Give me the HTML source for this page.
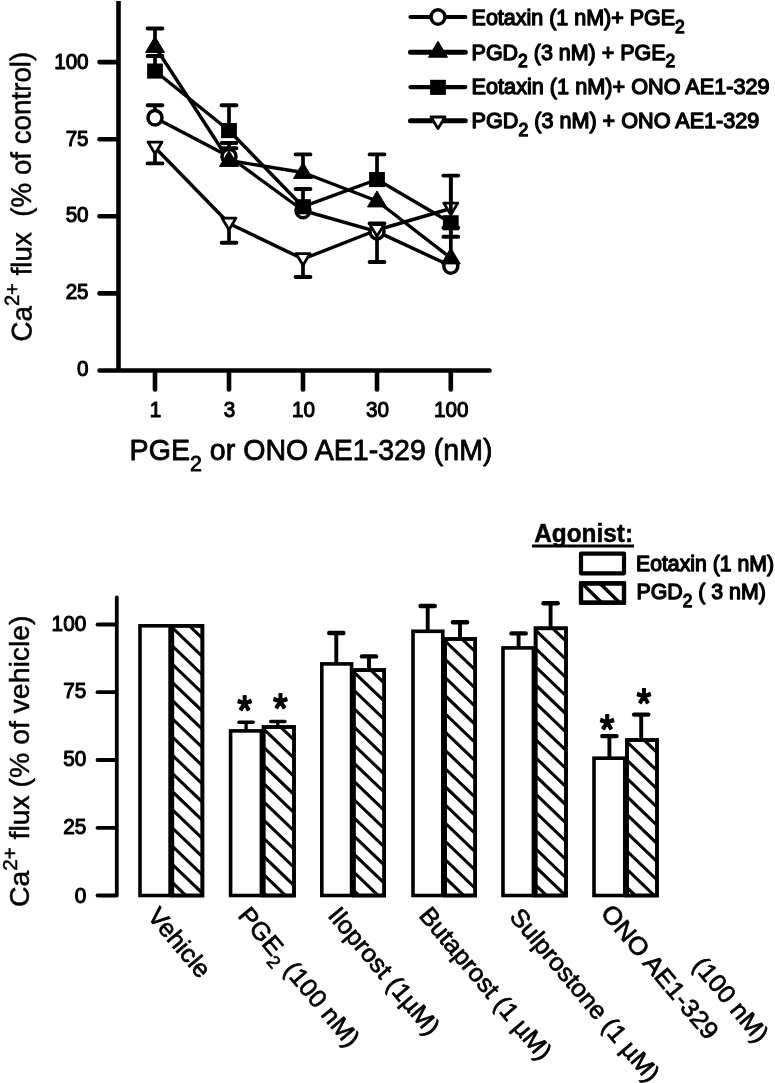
<!DOCTYPE html>
<html lang="en"><head><meta charset="utf-8"><title>Figure</title>
<style>
html,body{margin:0;padding:0;background:#fff;}
svg{display:block}
text{font-family:"Liberation Sans", Arial, Helvetica, sans-serif;white-space:pre;fill:#000;stroke:#000;stroke-width:1.1px;stroke-linejoin:round}
.b{font-weight:bold}
</style></head><body>
<svg width="775" height="1083" viewBox="0 0 775 1083">
<rect width="775" height="1083" fill="#fff"/>

<g stroke="#000" stroke-width="4.6" fill="none" stroke-linecap="round">
<line x1="118.5" y1="1" x2="118.5" y2="370.5" stroke-linecap="butt"/>
<line x1="99.5" y1="370.5" x2="489.5" y2="370.5"/>
<line x1="99.5" y1="293.4" x2="117.5" y2="293.4"/>
<line x1="99.5" y1="216.3" x2="117.5" y2="216.3"/>
<line x1="99.5" y1="139.2" x2="117.5" y2="139.2"/>
<line x1="99.5" y1="62.1" x2="117.5" y2="62.1"/>
<line x1="155" y1="371.5" x2="155" y2="389.5"/>
<line x1="229" y1="371.5" x2="229" y2="389.5"/>
<line x1="303" y1="371.5" x2="303" y2="389.5"/>
<line x1="377" y1="371.5" x2="377" y2="389.5"/>
<line x1="450.8" y1="371.5" x2="450.8" y2="389.5"/>
</g>
<text transform="translate(88.6,376.0) scale(0.96,1)" font-size="21.5" text-anchor="end">0</text>
<text transform="translate(88.6,299.3) scale(0.96,1)" font-size="21.5" text-anchor="end">25</text>
<text transform="translate(88.6,222.0) scale(0.96,1)" font-size="21.5" text-anchor="end">50</text>
<text transform="translate(88.6,145.9) scale(0.96,1)" font-size="21.5" text-anchor="end">75</text>
<text transform="translate(88.6,69.3) scale(0.96,1)" font-size="21.5" text-anchor="end">100</text>
<text transform="translate(155.5,417) scale(0.96,1)" font-size="21.5" text-anchor="middle">1</text>
<text transform="translate(229.5,417) scale(0.96,1)" font-size="21.5" text-anchor="middle">3</text>
<text transform="translate(303.5,417) scale(0.96,1)" font-size="21.5" text-anchor="middle">10</text>
<text transform="translate(377.5,417) scale(0.96,1)" font-size="21.5" text-anchor="middle">30</text>
<text transform="translate(451.3,417) scale(0.96,1)" font-size="21.5" text-anchor="middle">100</text>
<text transform="translate(129.6,460) scale(0.9756,1)" font-size="29.3" style="stroke-width:0.8px">PGE<tspan font-size="22" dy="10.5">2</tspan><tspan dy="-10.5"> or ONO AE1-329 (nM)</tspan></text>
<text transform="translate(31.6,341.5) rotate(-90.27) scale(0.9815,1)" font-size="28.3" style="stroke-width:0.5px">Ca<tspan font-size="20.5" dy="-12.4">2+</tspan><tspan dy="12.4"> flux  (% of control)</tspan></text>
<g stroke="#000" stroke-width="3.4" fill="none" stroke-linejoin="round" stroke-linecap="round">
<path d="M155 117.7V105.3" stroke-width="3.7" stroke-linecap="butt"/><path d="M147.6 105.3H162.4" stroke-width="3.9"/>
<path d="M229 156.5V143" stroke-width="3.7" stroke-linecap="butt"/><path d="M221.6 143H236.4" stroke-width="3.9"/>
<path d="M377 231.6V223.4" stroke-width="3.7" stroke-linecap="butt"/><path d="M369.6 223.4H384.4" stroke-width="3.9"/>
<path d="M155 46.5V28.5" stroke-width="3.7" stroke-linecap="butt"/><path d="M147.6 28.5H162.4" stroke-width="3.9"/>
<path d="M229 160.5V148.3" stroke-width="3.7" stroke-linecap="butt"/><path d="M221.6 148.3H236.4" stroke-width="3.9"/>
<path d="M303 172.5V154.4" stroke-width="3.7" stroke-linecap="butt"/><path d="M295.6 154.4H310.4" stroke-width="3.9"/>
<path d="M450.8 258V227.8" stroke-width="3.7" stroke-linecap="butt"/><path d="M443.40000000000003 227.8H458.2" stroke-width="3.9"/>
<path d="M155 71V56" stroke-width="3.7" stroke-linecap="butt"/><path d="M147.6 56H162.4" stroke-width="3.9"/>
<path d="M229 130.5V105.3" stroke-width="3.7" stroke-linecap="butt"/><path d="M221.6 105.3H236.4" stroke-width="3.9"/>
<path d="M303 206.7V189" stroke-width="3.7" stroke-linecap="butt"/><path d="M295.6 189H310.4" stroke-width="3.9"/>
<path d="M377 179.5V154.4" stroke-width="3.7" stroke-linecap="butt"/><path d="M369.6 154.4H384.4" stroke-width="3.9"/>
<path d="M450.8 222.7V236.7" stroke-width="3.7" stroke-linecap="butt"/><path d="M443.40000000000003 236.7H458.2" stroke-width="3.9"/>
<path d="M155 147.5V163.4" stroke-width="3.7" stroke-linecap="butt"/><path d="M147.6 163.4H162.4" stroke-width="3.9"/>
<path d="M229 223.5V242.7" stroke-width="3.7" stroke-linecap="butt"/><path d="M221.6 242.7H236.4" stroke-width="3.9"/>
<path d="M303 259V277" stroke-width="3.7" stroke-linecap="butt"/><path d="M295.6 277H310.4" stroke-width="3.9"/>
<path d="M377 230V262" stroke-width="3.7" stroke-linecap="butt"/><path d="M369.6 262H384.4" stroke-width="3.9"/>
<path d="M450.8 208.5V175.6" stroke-width="3.7" stroke-linecap="butt"/><path d="M443.40000000000003 175.6H458.2" stroke-width="3.9"/>
<path d="M155 147.5 L229 223.5 L303 259 L377 230 L450.8 208.5"/>
<path d="M155 117.7 L229 156.5 L303 210.5 L377 231.6 L450.8 266"/>
<path d="M155 71 L229 130.5 L303 206.7 L377 179.5 L450.8 222.7"/>
<path d="M155 46.5 L229 160.5 L303 172.5 L377 201 L450.8 258"/>
</g>
<ellipse cx="155" cy="117.7" rx="7.0" ry="7.3" fill="#fff" stroke="#000" stroke-width="3.5"/>
<ellipse cx="229" cy="156.5" rx="7.0" ry="7.3" fill="#fff" stroke="#000" stroke-width="3.5"/>
<ellipse cx="303" cy="210.5" rx="7.0" ry="7.3" fill="#fff" stroke="#000" stroke-width="3.5"/>
<ellipse cx="377" cy="231.6" rx="7.0" ry="7.3" fill="#fff" stroke="#000" stroke-width="3.5"/>
<ellipse cx="450.8" cy="266" rx="7.0" ry="7.3" fill="#fff" stroke="#000" stroke-width="3.5"/>
<path d="M155 153.7L162.0 142.1H148.0Z" fill="#fff" stroke="#000" stroke-width="2.8" stroke-linejoin="round"/>
<path d="M229 229.7L236.0 218.1H222.0Z" fill="#fff" stroke="#000" stroke-width="2.8" stroke-linejoin="round"/>
<path d="M303 265.2L310.0 253.6H296.0Z" fill="#fff" stroke="#000" stroke-width="2.8" stroke-linejoin="round"/>
<path d="M377 236.2L384.0 224.6H370.0Z" fill="#fff" stroke="#000" stroke-width="2.8" stroke-linejoin="round"/>
<path d="M450.8 214.7L457.8 203.1H443.8Z" fill="#fff" stroke="#000" stroke-width="2.8" stroke-linejoin="round"/>
<path d="M155 36.5L164.5 52.4H145.5Z" fill="#000" stroke="#000" stroke-width="1" stroke-linejoin="round"/>
<path d="M229 150.5L238.5 166.4H219.5Z" fill="#000" stroke="#000" stroke-width="1" stroke-linejoin="round"/>
<path d="M303 162.5L312.5 178.4H293.5Z" fill="#000" stroke="#000" stroke-width="1" stroke-linejoin="round"/>
<path d="M377 191L386.5 206.9H367.5Z" fill="#000" stroke="#000" stroke-width="1" stroke-linejoin="round"/>
<path d="M450.8 248L460.3 263.9H441.3Z" fill="#000" stroke="#000" stroke-width="1" stroke-linejoin="round"/>
<rect x="147.1" y="63.5" width="15.8" height="15.1" fill="#000"/>
<rect x="221.1" y="123.0" width="15.8" height="15.1" fill="#000"/>
<rect x="295.1" y="199.2" width="15.8" height="15.1" fill="#000"/>
<rect x="369.1" y="172.0" width="15.8" height="15.1" fill="#000"/>
<rect x="442.90000000000003" y="215.2" width="15.8" height="15.1" fill="#000"/>
<path d="M450.8 214V177" stroke="#000" stroke-width="3.7" fill="none"/>
<line x1="410.5" y1="17.0" x2="465.3" y2="17.0" stroke="#000" stroke-width="4.2" stroke-linecap="round"/>
<ellipse cx="438" cy="17.0" rx="7.0" ry="7.3" fill="#fff" stroke="#000" stroke-width="3.5"/>
<text transform="translate(471.6,25) scale(0.9991,1)" font-size="21.5" style="stroke-width:1.3px">Eotaxin (1 nM)+ PGE<tspan font-size="17.5" dy="7.6">2</tspan></text>
<line x1="410.5" y1="52.3" x2="465.3" y2="52.3" stroke="#000" stroke-width="5.0" stroke-linecap="round"/>
<path d="M438 41.3L447.5 57.199999999999996H428.5Z" fill="#000" stroke="#000" stroke-width="1" stroke-linejoin="round"/>
<text transform="translate(471.6,59.6) scale(0.9987,1)" font-size="21.5" style="stroke-width:1.3px">PGD<tspan font-size="17.5" dy="7.6">2</tspan><tspan dy="-7.6"> (3 nM) + PGE</tspan><tspan font-size="17.5" dy="7.6">2</tspan></text>
<line x1="410.5" y1="87.1" x2="465.3" y2="87.1" stroke="#000" stroke-width="4.3" stroke-linecap="round"/>
<rect x="430.1" y="79.8" width="15.8" height="15.1" fill="#000"/>
<text transform="translate(471.6,94) scale(1.0079,1)" font-size="21.5" style="stroke-width:1.3px">Eotaxin (1 nM)+ ONO AE1-329</text>
<line x1="410.5" y1="120.8" x2="465.3" y2="120.8" stroke="#000" stroke-width="5.0" stroke-linecap="round"/>
<path d="M438 128.6L445.0 116.99999999999999H431.0Z" fill="#fff" stroke="#000" stroke-width="2.8" stroke-linejoin="round"/>
<text transform="translate(471.6,128.2) scale(1.005,1)" font-size="21.5" style="stroke-width:1.3px">PGD<tspan font-size="17.5" dy="7.6">2</tspan><tspan dy="-7.6"> (3 nM) + ONO AE1-329</tspan></text>
<g stroke="#000" stroke-width="3.8" fill="none" stroke-linecap="round">
<line x1="116.8" y1="597.5" x2="116.8" y2="895.5"/>
<line x1="97.5" y1="895.5" x2="115.8" y2="895.5"/>
<line x1="97.5" y1="827.8" x2="115.8" y2="827.8"/>
<line x1="97.5" y1="760.0" x2="115.8" y2="760.0"/>
<line x1="97.5" y1="692.2" x2="115.8" y2="692.2"/>
<line x1="97.5" y1="624.5" x2="115.8" y2="624.5"/>
</g>
<text transform="translate(86.2,902.8) scale(0.96,1)" font-size="21.6" text-anchor="end">0</text>
<text transform="translate(86.2,833.8) scale(0.96,1)" font-size="21.6" text-anchor="end">25</text>
<text transform="translate(86.2,766.0) scale(0.96,1)" font-size="21.6" text-anchor="end">50</text>
<text transform="translate(86.2,698.2) scale(0.96,1)" font-size="21.6" text-anchor="end">75</text>
<text transform="translate(86.2,630.5) scale(0.96,1)" font-size="21.6" text-anchor="end">100</text>
<text transform="translate(29.4,907) rotate(-90) scale(1.0026,1)" font-size="28.3" style="stroke-width:0.5px">Ca<tspan font-size="20.5" dy="-12.4">2+</tspan><tspan dy="12.4"> flux (% of vehicle)</tspan></text>
<rect x="140.0" y="625.8" width="30.1" height="269.7" fill="#fff" stroke="#000" stroke-width="3.6"/>
<rect x="172.3" y="625.8" width="30.1" height="269.7" fill="#fff" stroke="#000" stroke-width="3.6"/>
<clipPath id="c0"><rect x="172.3" y="625.8" width="30.1" height="269.7"/></clipPath><g clip-path="url(#c0)" stroke="#000" stroke-width="3.1"><line x1="170.3" y1="571.2" x2="204.4" y2="603.9"/><line x1="170.3" y1="589.4" x2="204.4" y2="622.1"/><line x1="170.3" y1="607.6" x2="204.4" y2="640.3"/><line x1="170.3" y1="625.8" x2="204.4" y2="658.5"/><line x1="170.3" y1="644.0" x2="204.4" y2="676.7"/><line x1="170.3" y1="662.2" x2="204.4" y2="694.9"/><line x1="170.3" y1="680.4" x2="204.4" y2="713.1"/><line x1="170.3" y1="698.6" x2="204.4" y2="731.3"/><line x1="170.3" y1="716.8" x2="204.4" y2="749.5"/><line x1="170.3" y1="735.0" x2="204.4" y2="767.7"/><line x1="170.3" y1="753.2" x2="204.4" y2="785.9"/><line x1="170.3" y1="771.4" x2="204.4" y2="804.1"/><line x1="170.3" y1="789.6" x2="204.4" y2="822.3"/><line x1="170.3" y1="807.8" x2="204.4" y2="840.5"/><line x1="170.3" y1="826.0" x2="204.4" y2="858.7"/><line x1="170.3" y1="844.2" x2="204.4" y2="876.9"/><line x1="170.3" y1="862.4" x2="204.4" y2="895.1"/><line x1="170.3" y1="880.6" x2="204.4" y2="913.3"/></g>
<rect x="172.3" y="625.8" width="30.1" height="269.7" fill="none" stroke="#000" stroke-width="3.6"/>
<path d="M246.1 730.9V722.3" stroke="#000" stroke-width="3.3" fill="none"/>
<path d="M239.0 722.3H253.2" stroke="#000" stroke-width="3.5" fill="none" stroke-linecap="round"/>
<path d="M277.8 727.0V721.4" stroke="#000" stroke-width="3.3" fill="none"/>
<path d="M270.7 721.4H284.9" stroke="#000" stroke-width="3.5" fill="none" stroke-linecap="round"/>
<rect x="230.6" y="730.9" width="30.8" height="164.6" fill="#fff" stroke="#000" stroke-width="3.6"/>
<rect x="263.6" y="727.0" width="30.4" height="168.5" fill="#fff" stroke="#000" stroke-width="3.6"/>
<clipPath id="c1"><rect x="263.6" y="727.0" width="30.4" height="168.5"/></clipPath><g clip-path="url(#c1)" stroke="#000" stroke-width="3.1"><line x1="261.6" y1="672.4" x2="296.0" y2="705.4"/><line x1="261.6" y1="690.6" x2="296.0" y2="723.6"/><line x1="261.6" y1="708.8" x2="296.0" y2="741.8"/><line x1="261.6" y1="727.0" x2="296.0" y2="760.0"/><line x1="261.6" y1="745.2" x2="296.0" y2="778.2"/><line x1="261.6" y1="763.4" x2="296.0" y2="796.4"/><line x1="261.6" y1="781.6" x2="296.0" y2="814.6"/><line x1="261.6" y1="799.8" x2="296.0" y2="832.8"/><line x1="261.6" y1="818.0" x2="296.0" y2="851.0"/><line x1="261.6" y1="836.2" x2="296.0" y2="869.2"/><line x1="261.6" y1="854.4" x2="296.0" y2="887.4"/><line x1="261.6" y1="872.6" x2="296.0" y2="905.6"/><line x1="261.6" y1="890.8" x2="296.0" y2="923.8"/></g>
<rect x="263.6" y="727.0" width="30.4" height="168.5" fill="none" stroke="#000" stroke-width="3.6"/>
<path d="M336.3 663.9V633.0" stroke="#000" stroke-width="3.9" fill="none"/>
<path d="M329.2 633.0H343.4" stroke="#000" stroke-width="4.4" fill="none" stroke-linecap="round"/>
<path d="M369.0 670.1V656.4" stroke="#000" stroke-width="3.9" fill="none"/>
<path d="M361.9 656.4H376.1" stroke="#000" stroke-width="4.4" fill="none" stroke-linecap="round"/>
<rect x="321.8" y="663.9" width="29.8" height="231.6" fill="#fff" stroke="#000" stroke-width="3.6"/>
<rect x="353.8" y="670.1" width="30.4" height="225.4" fill="#fff" stroke="#000" stroke-width="3.6"/>
<clipPath id="c2"><rect x="353.8" y="670.1" width="30.4" height="225.4"/></clipPath><g clip-path="url(#c2)" stroke="#000" stroke-width="3.1"><line x1="351.8" y1="615.5" x2="386.2" y2="648.5"/><line x1="351.8" y1="633.7" x2="386.2" y2="666.7"/><line x1="351.8" y1="651.9" x2="386.2" y2="684.9"/><line x1="351.8" y1="670.1" x2="386.2" y2="703.1"/><line x1="351.8" y1="688.3" x2="386.2" y2="721.3"/><line x1="351.8" y1="706.5" x2="386.2" y2="739.5"/><line x1="351.8" y1="724.7" x2="386.2" y2="757.7"/><line x1="351.8" y1="742.9" x2="386.2" y2="775.9"/><line x1="351.8" y1="761.1" x2="386.2" y2="794.1"/><line x1="351.8" y1="779.3" x2="386.2" y2="812.3"/><line x1="351.8" y1="797.5" x2="386.2" y2="830.5"/><line x1="351.8" y1="815.7" x2="386.2" y2="848.7"/><line x1="351.8" y1="833.9" x2="386.2" y2="866.9"/><line x1="351.8" y1="852.1" x2="386.2" y2="885.1"/><line x1="351.8" y1="870.3" x2="386.2" y2="903.3"/><line x1="351.8" y1="888.5" x2="386.2" y2="921.5"/></g>
<rect x="353.8" y="670.1" width="30.4" height="225.4" fill="none" stroke="#000" stroke-width="3.6"/>
<path d="M427.7 631.3V606.0" stroke="#000" stroke-width="3.9" fill="none"/>
<path d="M420.6 606.0H434.8" stroke="#000" stroke-width="4.4" fill="none" stroke-linecap="round"/>
<path d="M460.0 639.0V622.3" stroke="#000" stroke-width="3.9" fill="none"/>
<path d="M452.9 622.3H467.1" stroke="#000" stroke-width="4.4" fill="none" stroke-linecap="round"/>
<rect x="413.0" y="631.3" width="29.8" height="264.2" fill="#fff" stroke="#000" stroke-width="3.6"/>
<rect x="445.0" y="639.0" width="30.2" height="256.5" fill="#fff" stroke="#000" stroke-width="3.6"/>
<clipPath id="c3"><rect x="445.0" y="639.0" width="30.2" height="256.5"/></clipPath><g clip-path="url(#c3)" stroke="#000" stroke-width="3.1"><line x1="443.0" y1="584.4" x2="477.2" y2="617.2"/><line x1="443.0" y1="602.6" x2="477.2" y2="635.4"/><line x1="443.0" y1="620.8" x2="477.2" y2="653.6"/><line x1="443.0" y1="639.0" x2="477.2" y2="671.8"/><line x1="443.0" y1="657.2" x2="477.2" y2="690.0"/><line x1="443.0" y1="675.4" x2="477.2" y2="708.2"/><line x1="443.0" y1="693.6" x2="477.2" y2="726.4"/><line x1="443.0" y1="711.8" x2="477.2" y2="744.6"/><line x1="443.0" y1="730.0" x2="477.2" y2="762.8"/><line x1="443.0" y1="748.2" x2="477.2" y2="781.0"/><line x1="443.0" y1="766.4" x2="477.2" y2="799.2"/><line x1="443.0" y1="784.6" x2="477.2" y2="817.4"/><line x1="443.0" y1="802.8" x2="477.2" y2="835.6"/><line x1="443.0" y1="821.0" x2="477.2" y2="853.8"/><line x1="443.0" y1="839.2" x2="477.2" y2="872.0"/><line x1="443.0" y1="857.4" x2="477.2" y2="890.2"/><line x1="443.0" y1="875.6" x2="477.2" y2="908.4"/><line x1="443.0" y1="893.8" x2="477.2" y2="926.6"/></g>
<rect x="445.0" y="639.0" width="30.2" height="256.5" fill="none" stroke="#000" stroke-width="3.6"/>
<path d="M518.6 647.9V633.4" stroke="#000" stroke-width="3.9" fill="none"/>
<path d="M511.5 633.4H525.7" stroke="#000" stroke-width="4.4" fill="none" stroke-linecap="round"/>
<path d="M550.6 628.3V603.3" stroke="#000" stroke-width="3.9" fill="none"/>
<path d="M543.5 603.3H557.7" stroke="#000" stroke-width="4.4" fill="none" stroke-linecap="round"/>
<rect x="503.0" y="647.9" width="30.4" height="247.6" fill="#fff" stroke="#000" stroke-width="3.6"/>
<rect x="535.6" y="628.3" width="30.4" height="267.2" fill="#fff" stroke="#000" stroke-width="3.6"/>
<clipPath id="c4"><rect x="535.6" y="628.3" width="30.4" height="267.2"/></clipPath><g clip-path="url(#c4)" stroke="#000" stroke-width="3.1"><line x1="533.6" y1="573.7" x2="568.0" y2="606.7"/><line x1="533.6" y1="591.9" x2="568.0" y2="624.9"/><line x1="533.6" y1="610.1" x2="568.0" y2="643.1"/><line x1="533.6" y1="628.3" x2="568.0" y2="661.3"/><line x1="533.6" y1="646.5" x2="568.0" y2="679.5"/><line x1="533.6" y1="664.7" x2="568.0" y2="697.7"/><line x1="533.6" y1="682.9" x2="568.0" y2="715.9"/><line x1="533.6" y1="701.1" x2="568.0" y2="734.1"/><line x1="533.6" y1="719.3" x2="568.0" y2="752.3"/><line x1="533.6" y1="737.5" x2="568.0" y2="770.5"/><line x1="533.6" y1="755.7" x2="568.0" y2="788.7"/><line x1="533.6" y1="773.9" x2="568.0" y2="806.9"/><line x1="533.6" y1="792.1" x2="568.0" y2="825.1"/><line x1="533.6" y1="810.3" x2="568.0" y2="843.3"/><line x1="533.6" y1="828.5" x2="568.0" y2="861.5"/><line x1="533.6" y1="846.7" x2="568.0" y2="879.7"/><line x1="533.6" y1="864.9" x2="568.0" y2="897.9"/><line x1="533.6" y1="883.1" x2="568.0" y2="916.1"/></g>
<rect x="535.6" y="628.3" width="30.4" height="267.2" fill="none" stroke="#000" stroke-width="3.6"/>
<path d="M609.4 758.2V736.1" stroke="#000" stroke-width="3.9" fill="none"/>
<path d="M602.3 736.1H616.5" stroke="#000" stroke-width="4.4" fill="none" stroke-linecap="round"/>
<path d="M641.2 740.0V714.6" stroke="#000" stroke-width="3.9" fill="none"/>
<path d="M634.1 714.6H648.3" stroke="#000" stroke-width="4.4" fill="none" stroke-linecap="round"/>
<rect x="594.0" y="758.2" width="30.8" height="137.3" fill="#fff" stroke="#000" stroke-width="3.6"/>
<rect x="627.0" y="740.0" width="30.0" height="155.5" fill="#fff" stroke="#000" stroke-width="3.6"/>
<clipPath id="c5"><rect x="627.0" y="740.0" width="30.0" height="155.5"/></clipPath><g clip-path="url(#c5)" stroke="#000" stroke-width="3.1"><line x1="625.0" y1="685.4" x2="659.0" y2="718.0"/><line x1="625.0" y1="703.6" x2="659.0" y2="736.2"/><line x1="625.0" y1="721.8" x2="659.0" y2="754.4"/><line x1="625.0" y1="740.0" x2="659.0" y2="772.6"/><line x1="625.0" y1="758.2" x2="659.0" y2="790.8"/><line x1="625.0" y1="776.4" x2="659.0" y2="809.0"/><line x1="625.0" y1="794.6" x2="659.0" y2="827.2"/><line x1="625.0" y1="812.8" x2="659.0" y2="845.4"/><line x1="625.0" y1="831.0" x2="659.0" y2="863.6"/><line x1="625.0" y1="849.2" x2="659.0" y2="881.8"/><line x1="625.0" y1="867.4" x2="659.0" y2="900.0"/><line x1="625.0" y1="885.6" x2="659.0" y2="918.2"/></g>
<rect x="627.0" y="740.0" width="30.0" height="155.5" fill="none" stroke="#000" stroke-width="3.6"/>
<text transform="translate(244.7,724.0) scale(0.92,1)" font-size="40" text-anchor="middle" style="stroke-width:1.9px">*</text>
<text transform="translate(280.5,722.3) scale(0.92,1)" font-size="40" text-anchor="middle" style="stroke-width:1.9px">*</text>
<text transform="translate(607.1,742.6) scale(0.92,1)" font-size="40" text-anchor="middle" style="stroke-width:1.9px">*</text>
<text transform="translate(644,717.2) scale(0.92,1)" font-size="40" text-anchor="middle" style="stroke-width:1.9px">*</text>
<text transform="translate(534.2,541.5) scale(0.976,1)" font-size="25" style="stroke-width:0.5px" class="b">Agonist:</text>
<line x1="532" y1="546" x2="634" y2="546" stroke="#000" stroke-width="3.2"/>
<rect x="581" y="553.6" width="43" height="19.7" fill="#fff" stroke="#000" stroke-width="4.2" stroke-linejoin="round"/>
<rect x="581" y="583.4" width="43" height="19.3" fill="#fff" stroke="#000" stroke-width="4.2"/>
<clipPath id="lg"><rect x="581" y="583.4" width="43" height="19.3"/></clipPath>
<g clip-path="url(#lg)" stroke="#000" stroke-width="3.5"><line x1="582" y1="583.4" x2="602" y2="603"/><line x1="600" y1="583.4" x2="620" y2="603"/></g>
<rect x="581" y="583.4" width="43" height="19.3" fill="none" stroke="#000" stroke-width="4.2" stroke-linejoin="round"/>
<text transform="translate(636.0,570.8) scale(0.987,1)" font-size="21.5" style="stroke-width:1.3px">Eotaxin (1 nM)</text>
<text transform="translate(636.4,599.3) scale(0.9931,1)" font-size="21.5" style="stroke-width:1.3px">PGD<tspan font-size="17.5" dy="7.6">2</tspan><tspan dy="-7.6"> ( 3 nM)</tspan></text>
<text transform="translate(146.6,916.6) rotate(50) scale(1.02,1)" font-size="25" style="stroke-width:0.7px">Vehicle</text>
<text transform="translate(237,916) rotate(50) scale(1.02,1)" font-size="25" style="stroke-width:0.7px">PGE<tspan font-size="18" dy="7.5">2</tspan><tspan dy="-7.5"> (100 nM)</tspan></text>
<text transform="translate(327,916) rotate(50) scale(1.02,1)" font-size="25" style="stroke-width:0.7px">Iloprost (1µM)</text>
<text transform="translate(418,916) rotate(50) scale(1.02,1)" font-size="25" style="stroke-width:0.7px">Butaprost (1 µM)</text>
<text transform="translate(508.6,917.2) rotate(50) scale(1.02,1)" font-size="25" style="stroke-width:0.7px">Sulprostone (1 µM)</text>
<text transform="translate(599.8,913.6) rotate(50) scale(1.045,1)" font-size="25" style="stroke-width:0.7px">ONO AE1-329</text>
<text transform="translate(691.6,966) rotate(50) scale(1.02,1)" font-size="25" style="stroke-width:0.7px">(100 nM)</text>
</svg></body></html>
